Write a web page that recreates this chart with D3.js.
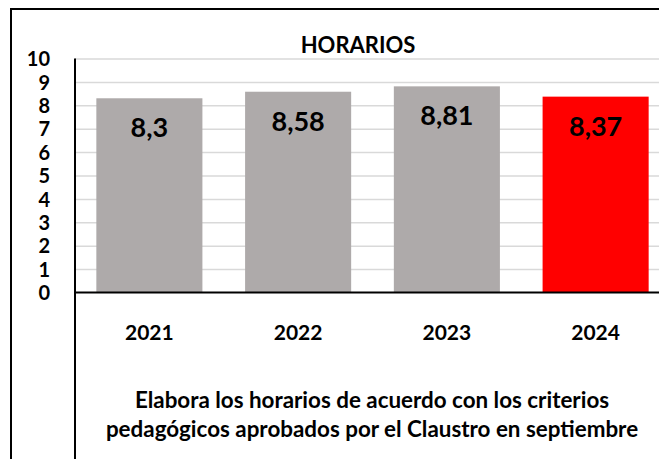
<!DOCTYPE html>
<html>
<head>
<meta charset="utf-8">
<script src="https://d3js.org/d3.v7.min.js"></script>
<style>
  body { margin: 0; background: #fff; }
  svg text { font-family: Lato, "Open Sans", sans-serif; font-weight: bold; fill: #000; }
  .grid line { stroke: #d9d9d9; stroke-width: 1.5; }
  .grid path { display: none; }
  .yaxis path, .yaxis line { display: none; }
</style>
</head>
<body>
<div id="chart"></div>
<script>
  // ---- data ----
  var years = ["2021", "2022", "2023", "2024"];
  var scores = [8.3, 8.58, 8.81, 8.37];
  var barColors = ["#aeaaaa", "#aeaaaa", "#aeaaaa", "#ff0000"];
  var yTicks = [0, 1, 2, 3, 4, 5, 6, 7, 8, 9, 10];
  var title = "HORARIOS";
  var footer = ["Elabora los horarios de acuerdo con los criterios",
                "pedagógicos aprobados por el Claustro en septiembre"];

  var W = 659, H = 459;
  var plot = { left: 75, right: 670, top: 58.5, bottom: 292.5 };

  var svg = d3.select("#chart").append("svg")
    .attr("width", W)
    .attr("height", H);

  var x = d3.scaleBand()
    .domain(years)
    .range([plot.left, plot.right])
    .paddingInner(0.287)
    .paddingOuter(0.1435);

  var y = d3.scaleLinear()
    .domain([0, 10])
    .range([plot.bottom, plot.top]);

  // outer frame (top + left, the rest is cut off)
  svg.append("path")
    .attr("d", "M11," + H + "V9H" + W)
    .attr("fill", "none")
    .attr("stroke", "#000")
    .attr("stroke-width", 2);

  // gridlines
  svg.append("g")
    .attr("class", "grid")
    .attr("transform", "translate(" + plot.left + ",0)")
    .call(d3.axisLeft(y).tickValues(yTicks.slice(1))
      .tickSize(-(plot.right - plot.left)).tickFormat(""));

  // bars
  svg.selectAll(".bar")
    .data(scores)
    .enter().append("rect")
    .attr("class", "bar")
    .attr("x", function(d, i) { return x(years[i]); })
    .attr("y", function(d) { return y(d); })
    .attr("width", x.bandwidth())
    .attr("height", function(d) { return y(0) - y(d); })
    .attr("fill", function(d, i) { return barColors[i]; });

  // value labels
  svg.selectAll(".val")
    .data(scores)
    .enter().append("text")
    .attr("class", "val")
    .attr("x", function(d, i) { return x(years[i]) + x.bandwidth() / 2; })
    .attr("y", function(d) { return y(d) + 39; })
    .attr("text-anchor", "middle")
    .style("font-size", "27px")
    .text(function(d) { return String(d).replace(".", ","); });

  // y axis labels
  var yAxis = svg.append("g")
    .attr("class", "yaxis")
    .attr("transform", "translate(50,0)")
    .call(d3.axisLeft(y).tickValues(yTicks).tickSize(0).tickPadding(0));
  yAxis.selectAll("text")
    .style("font-size", "20px")
    .attr("dy", "0.36em");

  // axis lines
  svg.append("line")
    .attr("x1", plot.left).attr("x2", W)
    .attr("y1", y(0)).attr("y2", y(0))
    .attr("stroke", "#000").attr("stroke-width", 2);
  svg.append("line")
    .attr("x1", plot.left).attr("x2", plot.left)
    .attr("y1", y(10)).attr("y2", H)
    .attr("stroke", "#000").attr("stroke-width", 2);

  // category labels
  svg.selectAll(".cat")
    .data(years)
    .enter().append("text")
    .attr("class", "cat")
    .attr("x", function(d) { return x(d) + x.bandwidth() / 2; })
    .attr("y", 340)
    .attr("text-anchor", "middle")
    .style("font-size", "21px")
    .text(function(d) { return d; });

  // title
  svg.append("text")
    .attr("x", 358)
    .attr("y", 53)
    .attr("text-anchor", "middle")
    .style("font-size", "22px")
    .text(title);

  // footer
  svg.selectAll(".foot")
    .data(footer)
    .enter().append("text")
    .attr("class", "foot")
    .attr("x", 372)
    .attr("y", function(d, i) { return 408 + i * 29; })
    .attr("text-anchor", "middle")
    .style("font-size", "22.4px")
    .text(function(d) { return d; });
</script>
</body>
</html>
